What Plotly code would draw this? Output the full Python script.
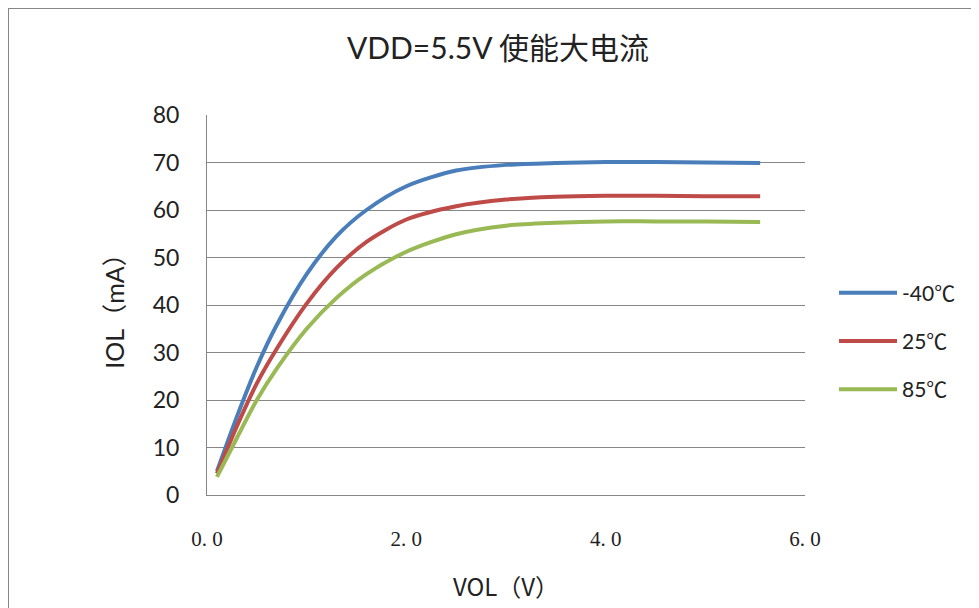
import plotly.graph_objects as go

vol = [0.1, 0.3, 0.5, 0.7, 1.0, 1.3, 1.6, 2.0, 2.5, 3.0, 3.5, 4.0, 4.5, 5.0, 5.55]
iol_m40 = [5.0, 16.5, 27.0, 35.8, 46.5, 54.5, 60.0, 65.0, 68.3, 69.5, 69.9, 70.1, 70.1, 70.0, 69.9]
iol_25 = [4.5, 14.5, 23.5, 30.8, 40.3, 47.8, 53.3, 58.0, 60.8, 62.2, 62.8, 63.0, 63.0, 62.9, 62.9]
iol_85 = [3.8, 12.0, 20.0, 26.6, 35.0, 41.5, 46.5, 51.2, 54.9, 56.7, 57.3, 57.6, 57.6, 57.6, 57.5]
series_names = ["-40℃", "25℃", "85℃"]
colors = ["#4A7EBB", "#BE4B48", "#98B954"]
x_ticks = [0, 2, 4, 6]
x_ticktext = ["0. 0", "2. 0", "4. 0", "6. 0"]
y_ticks = [0, 10, 20, 30, 40, 50, 60, 70, 80]

# page is rendered with an 8px body offset
OFF = 8
W, H = 979 - OFF, 608 - OFF
L, R, T, B = 207, 805, 115, 495  # reference pixel coords of plot area

fig = go.Figure()
for name, ys, c in zip(series_names, [iol_m40, iol_25, iol_85], colors):
    fig.add_trace(go.Scatter(x=vol, y=ys, mode="lines", name=name, legendgroup=name,
                             line=dict(color=c, width=4, shape="spline", smoothing=0.8)))

def px(x):
    return (x - L) / (R - L)

def py(y):
    return (B - y) / (B - T)

fig.add_shape(type="rect", xref="paper", yref="paper",
              x0=px(8), x1=px(972), y0=py(640), y1=py(8),
              line=dict(color="#868686", width=2), fillcolor="rgba(0,0,0,0)", layer="below")

cjk = "Lato, 'Noto Sans CJK SC', sans-serif"
serif = "'Liberation Serif', 'Noto Sans CJK SC', serif"

fig.update_layout(
    width=W, height=H,
    margin=dict(l=L - OFF, r=W - (R - OFF), t=T - OFF, b=H - (B - OFF)),
    paper_bgcolor="white", plot_bgcolor="white",
    title=dict(text="VDD=5.5V 使能大电流", x=(498 - OFF) / W, xanchor="center",
               y=1 - (48 - OFF) / H, yanchor="middle",
               font=dict(family=cjk, size=30, color="#222222")),
    xaxis=dict(range=[0, 6], tickvals=x_ticks, ticktext=x_ticktext, showgrid=False,
               showline=True, linecolor="#868686", linewidth=1, zeroline=False,
               ticks="", ticklabelstandoff=25,
               tickfont=dict(family=serif, size=21, color="#222222"),
               title=dict(text="VOL（V）", standoff=28,
                          font=dict(family="'Noto Sans CJK SC', sans-serif", size=24, color="#222222"))),
    yaxis=dict(range=[0, 80], tickvals=y_ticks, showgrid=True, gridcolor="#868686", gridwidth=1,
               showline=True, linecolor="#868686", linewidth=1, zeroline=False,
               ticks="", ticklabelstandoff=22,
               tickfont=dict(family=cjk, size=23, color="#222222"),
               title=dict(text="IOL（mA）", standoff=20,
                          font=dict(family=cjk, size=25, color="#222222"))),
    legend=dict(x=px(834), xanchor="left", y=py(341), yanchor="middle",
                font=dict(family=cjk, size=21, color="#222222"),
                tracegroupgap=18, itemwidth=58, bgcolor="rgba(0,0,0,0)"),
)

fig.write_html("out.html")
